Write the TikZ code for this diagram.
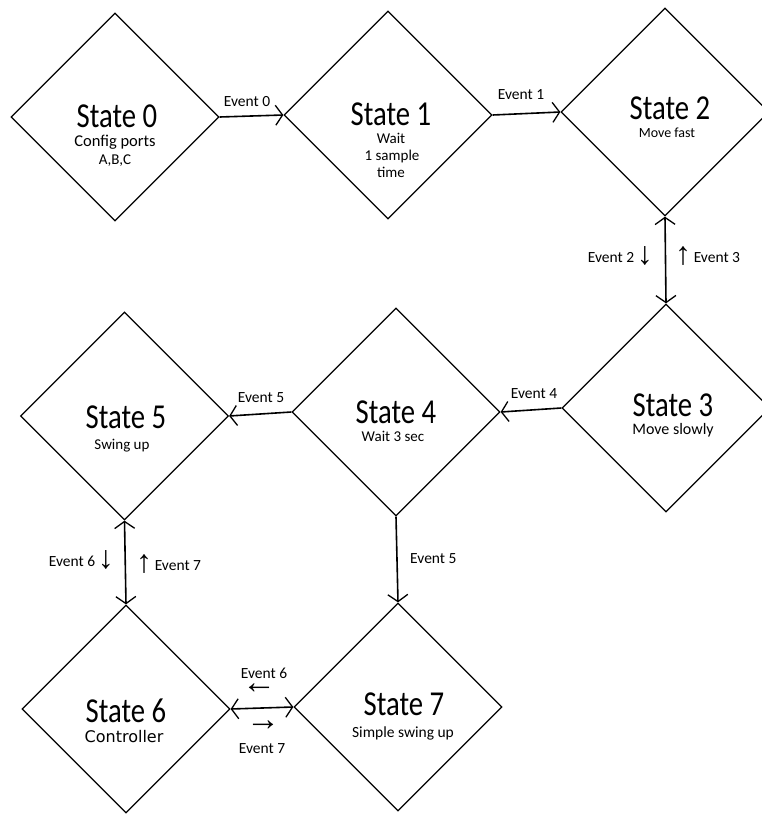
\documentclass[tikz,border=0pt]{standalone}
\usepackage{fontspec}
\setmainfont{Carlito}
\newfontfamily\titlefont{Carlito}[FakeStretch=0.82]
\newfontfamily\arrowfont{Liberation Sans}
\newfontfamily\widefont{DejaVu Sans}
\usetikzlibrary{shapes.geometric,arrows.meta}
\tikzset{
  barb/.tip={Straight Barb[length=7pt,width=20pt,line width=1.3pt]},
  state/.style={draw, diamond, line width=1.3pt, minimum width=208pt, minimum height=208pt, inner sep=0pt},
  ttl/.style={font=\titlefont\fontsize{35}{40}\selectfont, inner sep=0pt, anchor=base},
  sub/.style={font=\fontsize{15}{18}\selectfont, inner sep=0pt, anchor=base},
  ev/.style={font=\fontsize{15.5}{18}\selectfont, inner sep=0pt, anchor=base},
  arr/.style={font=\arrowfont\fontsize{34}{34}\selectfont, inner sep=0pt},
  conn/.style={line width=1.6pt, -barb},
  conntwo/.style={line width=1.6pt, barb-barb},
}
\newcommand{\arrch}[1]{\raisebox{-2pt}{\arrowfont\fontsize{32}{32}\selectfont #1}}
\begin{document}
\begin{tikzpicture}[x=1pt,y=-1pt]
\useasboundingbox (0,0) rectangle (762,817);
% states
\node[state] (s0) at (115,117) {};
\node[state] (s1) at (388,115) {};
\node[state] (s2) at (665,112) {};
\node[state] (s3) at (666,408) {};
\node[state] (s4) at (396,412) {};
\node[state] (s5) at (124.5,416) {};
\node[state] (s6) at (126,709) {};
\node[state] (s7) at (398,707) {};
% titles
\node[ttl] (t0) at (117,127) {State 0};
\node[sub, font=\fontsize{16.5}{18}\selectfont] (u0a) at (115,146) {Config ports};
\node[sub] (u0b) at (115,164) {A,B,C};
\node[ttl] (t1) at (391,125) {State 1};
\node[sub] (u1a) at (391,143) {Wait};
\node[sub] (u1b) at (392,160) {1 sample};
\node[sub] (u1c) at (391,177) {time};
\node[ttl] (t2) at (670,119) {State 2};
\node[sub, font=\fontsize{14}{18}\selectfont] (u2) at (667,137) {Move fast};
\node[ttl] (t3) at (673,416) {State 3};
\node[sub, font=\fontsize{16}{18}\selectfont] (u3) at (673,434) {Move slowly};
\node[ttl] (t4) at (396,423) {State 4};
\node[sub] (u4) at (393,441) {Wait 3 sec};
\node[ttl] (t5) at (126,428) {State 5};
\node[sub] (u5) at (122,449) {Swing up};
\node[ttl] (t6) at (126,722) {State 6};
\node[sub, font=\widefont\fontsize{16}{18}\selectfont] (u6) at (124,742) {Controller};
\node[ttl] (t7) at (404,715) {State 7};
\node[sub, font=\fontsize{15.5}{18}\selectfont] (u7) at (403,737) {Simple swing up};
% connectors
\draw[conn] (s0.east) -- (s1.west);
\draw[conn] (s1.east) -- (s2.west);
\draw[conntwo] (s2.south) -- (s3.north);
\draw[conn] (s3.west) -- (s4.east);
\draw[conn] (s4.west) -- (s5.east);
\draw[conntwo] (s5.south) -- (s6.north);
\draw[conn] (s4.south) -- (s7.north);
\draw[conntwo] (s6.east) -- (s7.west);
% event labels
\node[ev] (e0) at (247,106) {Event 0};
\node[ev] (e1) at (521,99) {Event 1};
\node[ev, anchor=base east] (e2) at (653,262) {Event 2\,\arrch{↓}};
\node[ev, anchor=base west] (e3) at (675,262) {\arrch{↑}\,Event 3};
\node[ev] (e4) at (534,398) {Event 4};
\node[ev] (e5) at (261,402) {Event 5};
\node[ev, anchor=base west] (e5b) at (410,563) {Event 5};
\node[ev, anchor=base east] (e6) at (114,566) {Event 6\,\arrch{↓}};
\node[ev, anchor=base west] (e7) at (136,570) {\arrch{↑}\,Event 7};
\node[ev] (e6b) at (264,678) {Event 6};
\node[arr] (a6) at (259,689) {←};
\node[arr] (a7) at (263,726) {→};
\node[ev] (e7b) at (262,753) {Event 7};
\end{tikzpicture}
\end{document}
